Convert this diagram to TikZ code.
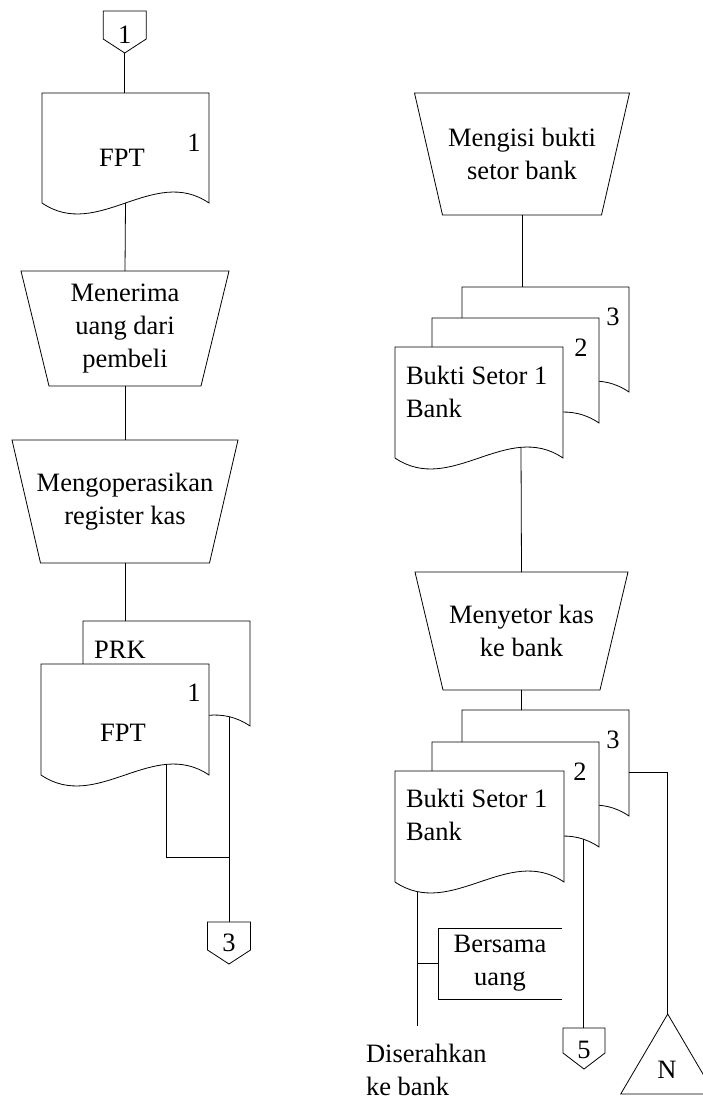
\documentclass[tikz,border=0pt]{standalone}
\usepackage{fontspec}
\setmainfont{Liberation Serif}
\usetikzlibrary{calc}
\tikzset{
  ln/.style={line width=0.8pt, draw=black},
  docbox/.style={draw=none, inner sep=0pt, outer sep=0pt},
  txt/.style={font=\fontsize{26.5pt}{33pt}\selectfont, inner sep=0pt, outer sep=0pt, align=center},
}
\newcommand\docout[3]{%
  \draw[ln, fill=white] (#1.north west) -- (#1.north east) -- (#1.south east)
    .. controls ($(#1.south east)!1/3!(#1.south west)+(0,-38)$)
    and ($(#1.south east)!2/3!(#1.south west)+(0,38)$) .. (#1.south west)
    coordinate[pos=#2] (#3) -- cycle;}
\newcommand\trapout[2]{%
  \draw[ln] (#1.north west) -- (#1.north east) -- ($(#1.south east)+(-#2,0)$)
    -- ($(#1.south west)+(#2,0)$) -- cycle;}
\newcommand\pentout[2]{%
  \draw[ln] (#1.north west) -- (#1.north east) -- ($(#1.south east)+(0,-#2)$)
    -- (#1.south) -- ($(#1.south west)+(0,-#2)$) -- cycle;}
\begin{document}
\begin{tikzpicture}[x=1pt,y=-1pt]
\clip (0,0) rectangle (703,1101);
\fill[white] (0,0) rectangle (703,1101);

% ---------- left column ----------
\node[docbox, minimum width=43pt, minimum height=42pt] (c1) at (124.7,32) {};
\pentout{c1}{14}
\node[txt] (c1t) at (124.7,35) {1};

\node[docbox, minimum width=167pt, minimum height=110pt] (fpt1) at (125.5,148) {};
\docout{fpt1}{0.5}{fpt1w}
\node[txt] (fpt1a) at (122,158) {FPT};
\node[txt] (fpt1b) at (194,143) {1};

\node[txt, minimum width=208pt, minimum height=115pt] (menerima) at (125,328.5) {Menerima\\uang dari\\pembeli};
\trapout{menerima}{28}

\node[txt, minimum width=226pt, minimum height=123pt] (mengop) at (125,501.5) {Mengoperasikan\\register kas};
\trapout{mengop}{28.5}

\node[docbox, minimum width=167pt, minimum height=105pt] (prk) at (166.5,673.5) {};
\docout{prk}{0.124}{prkw}
\node[txt] (prka) at (120,650) {PRK};

\node[docbox, minimum width=168pt, minimum height=111pt] (fpt2) at (125,719.5) {};
\docout{fpt2}{0.252}{fpt2w}
\node[txt] (fpt2b) at (194,693) {1};
\node[txt] (fpt2a) at (123,733) {FPT};

\node[docbox, minimum width=43pt, minimum height=42pt] (c3) at (229,943) {};
\pentout{c3}{14}
\node[txt] (c3t) at (229,943) {3};

\coordinate (j3) at (229,857);
\draw[ln] (c1.south) -- (c1.south |- fpt1.north);
\draw[ln] (fpt1w) -- (menerima.north);
\draw[ln] (menerima.south) -- (mengop.north);
\draw[ln] (mengop.south) -- (mengop.south |- prk.north);
\draw[ln] (prkw) -- (prkw |- c3.north);
\draw[ln] (fpt2w) |- (j3);

% ---------- right column ----------
\node[txt, minimum width=215pt, minimum height=122pt] (mengisi) at (522,154) {Mengisi bukti\\setor bank};
\trapout{mengisi}{28}

\node[docbox, minimum width=167pt, minimum height=105pt] (s1d3) at (545.5,339.5) {};
\docout{s1d3}{0.5}{s1d3w}
\node[txt] (s1d3t) at (613,317) {3};
\node[docbox, minimum width=167pt, minimum height=105pt] (s1d2) at (515.5,370.5) {};
\docout{s1d2}{0.5}{s1d2w}
\node[txt] (s1d2t) at (581,348) {2};
\node[docbox, minimum width=168pt, minimum height=111pt] (s1d1) at (479,402.5) {};
\docout{s1d1}{0.25}{s1w}
\node[txt, align=left, anchor=north west] (s1d1t) at (406,366) {Bukti Setor 1\\Bank};

\node[txt, minimum width=213pt, minimum height=118pt] (menyetor) at (521.5,631) {Menyetor kas\\ke bank};
\trapout{menyetor}{28}

\node[docbox, minimum width=167pt, minimum height=106pt] (s2d3) at (545.5,763) {};
\docout{s2d3}{0.5}{s2d3w}
\node[txt] (s2d3t) at (613,740) {3};
\node[docbox, minimum width=167pt, minimum height=105pt] (s2d2) at (515.5,794.5) {};
\docout{s2d2}{0.094}{s2d2w}
\node[txt] (s2d2t) at (580,772) {2};
\node[docbox, minimum width=169pt, minimum height=111pt] (s2d1) at (479.5,826.5) {};
\docout{s2d1}{0.87}{s2d1w}
\node[txt, align=left, anchor=north west] (s2d1t) at (406,789.5) {Bukti Setor 1\\Bank};

\node[txt, minimum width=124pt, minimum height=71pt] (bers) at (500,963.5) {Bersama\\uang};
\draw[ln] (bers.north east) -- (bers.north west) -- (bers.south west) -- (bers.south east);

\node[docbox, minimum width=42pt, minimum height=41pt] (c5) at (584,1048.5) {};
\pentout{c5}{16}
\node[txt] (c5t) at (584,1050) {5};

\node[docbox, minimum width=94pt, minimum height=80pt] (tri) at (667.7,1054) {};
\draw[ln] (tri.north) -- (tri.south east) -- (tri.south west) -- cycle;
\node[txt] (trit) at (667,1070) {N};

\node[txt, align=left, anchor=north west] (diser) at (366,1044) {Diserahkan\\ke bank};

\coordinate (s2r) at ($(s2d3.east)+(0,9.7)$);
\coordinate (dend) at (417,1026);
\draw[ln] (mengisi.south) -- (mengisi.south |- s1d3.north);
\draw[ln] (s1w) -- (menyetor.north);
\draw[ln] (menyetor.south) -- (menyetor.south |- s2d3.north);
\draw[ln] (s2r) -| (tri.north);
\draw[ln] (s2d2w) -- (s2d2w |- c5.north);
\draw[ln] (s2d1w) -- (s2d1w |- dend);
\draw[ln] (bers.west) -- (bers.west -| s2d1w);
\end{tikzpicture}
\end{document}
